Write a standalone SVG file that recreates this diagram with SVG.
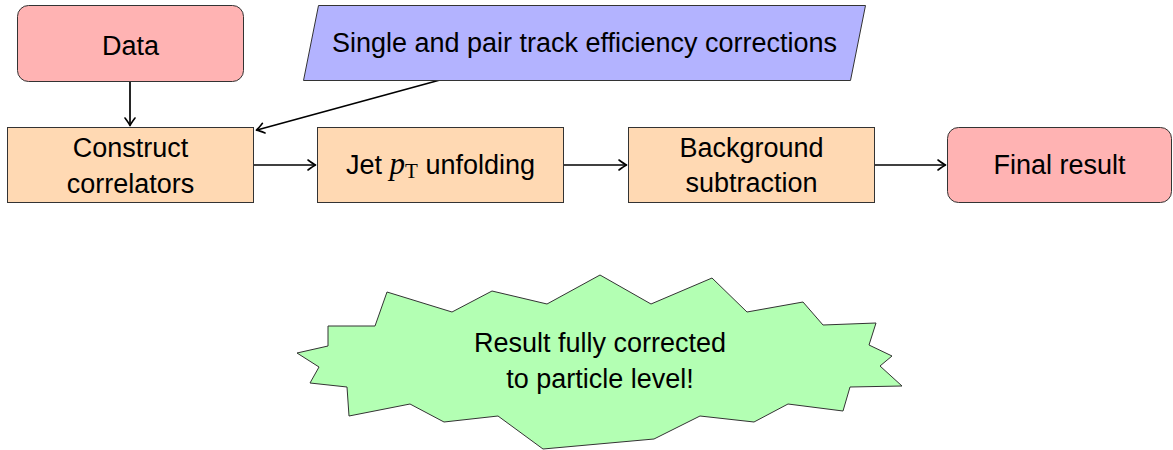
<svg xmlns="http://www.w3.org/2000/svg" width="1173" height="450" viewBox="0 0 1173 450">
  <style>
    .box { stroke: #333; stroke-width: 1; }
    .red { fill: #ffb3b3; }
    .blue { fill: #b3b3ff; }
    .orange { fill: #ffd9b3; }
    .green { fill: #b3ffb3; }
    .lbl { font-family: "Liberation Sans", Arial, sans-serif; font-size: 27px; fill: #000; text-anchor: middle; }
    .math { font-family: "Liberation Serif", "Times New Roman", serif; }
    .edge { fill: none; stroke: #000; stroke-width: 1.7; }
  </style>
  <defs>
    <marker id="arrow" markerUnits="userSpaceOnUse" markerWidth="16" markerHeight="16" viewBox="-11 -8 16 16" refX="0" refY="0" orient="auto">
      <path d="M -7,-5 Q -2,-1.2 0.6,0 Q -2,1.2 -7,5" fill="none" stroke="#000" stroke-width="1.6" stroke-linecap="round" stroke-linejoin="round"/>
    </marker>
  </defs>

  <rect width="1173" height="450" fill="#fff"/>

  <g id="connectors">
    <line class="edge" x1="130" y1="82" x2="130" y2="125" marker-end="url(#arrow)"/>
    <line class="edge" x1="440" y1="80" x2="257" y2="130" marker-end="url(#arrow)"/>
    <line class="edge" x1="253" y1="165" x2="315" y2="165" marker-end="url(#arrow)"/>
    <line class="edge" x1="563" y1="165" x2="626" y2="165" marker-end="url(#arrow)"/>
    <line class="edge" x1="874" y1="165" x2="945" y2="165" marker-end="url(#arrow)"/>
  </g>

  <g id="data">
    <rect class="box red" x="17.5" y="5.5" width="226" height="76" rx="11"/>
    <text class="lbl" x="130.5" y="55">Data</text>
  </g>

  <g id="corrections">
    <polygon class="box blue" points="318.5,5.5 865.5,5.5 850.5,80.5 303.5,80.5"/>
    <text class="lbl" x="584.5" y="52">Single and pair track efficiency corrections</text>
  </g>

  <g id="construct">
    <rect class="box orange" x="7.5" y="127.5" width="246" height="75"/>
    <text class="lbl" x="130.5" y="157">Construct</text>
    <text class="lbl" x="130.5" y="193">correlators</text>
  </g>

  <g id="unfolding">
    <rect class="box orange" x="317.5" y="127.5" width="246" height="75"/>
    <text class="lbl" x="440.5" y="174">Jet <tspan class="math" font-style="italic" font-size="31">p</tspan><tspan class="math" font-size="21" dy="4">T</tspan><tspan dy="-4"> unfolding</tspan></text>
  </g>

  <g id="background">
    <rect class="box orange" x="628.5" y="127.5" width="246" height="75"/>
    <text class="lbl" x="751.5" y="157">Background</text>
    <text class="lbl" x="751.5" y="192">subtraction</text>
  </g>

  <g id="final">
    <rect class="box red" x="947.5" y="127.5" width="224" height="75" rx="11"/>
    <text class="lbl" x="1059.5" y="174">Final result</text>
  </g>

  <g id="fully-corrected">
    <polygon class="box green" points="297,353 328,346 328,326 375,326 387,292 452,312 492,291 547,304 600,275 651,304 712,278 747,312 803,302 823,325 876,323 869,345 892,356 880,366 902,386 850,387 843,411 788,404 754,422 700,416 654,439 543,449 498,416 444,422 410,404 349,416 347,387 310,383 319,367"/>
    <text class="lbl" x="600" y="352">Result fully corrected</text>
    <text class="lbl" x="600" y="388">to particle level!</text>
  </g>
</svg>
